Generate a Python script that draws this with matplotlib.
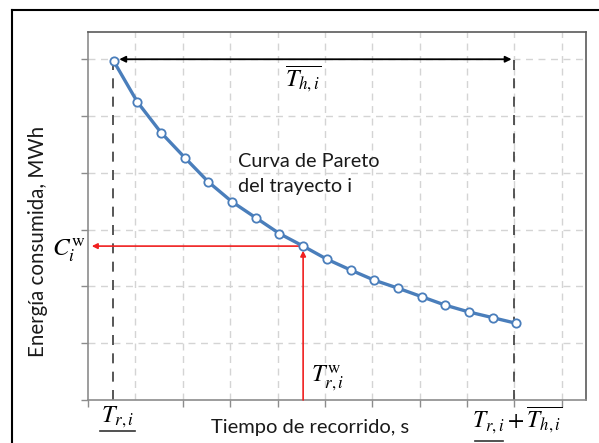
import matplotlib
matplotlib.use("Agg")
import matplotlib.pyplot as plt
from matplotlib.lines import Line2D

plt.rcParams['mathtext.fontset'] = 'stix'

# ---- data ----
time_s = [0.54, 1.04, 1.54, 2.04, 2.54, 3.04, 3.54, 4.04, 4.54, 5.04,
          5.54, 6.04, 6.54, 7.04, 7.54, 8.04, 8.54, 9.04]
energy_mwh = [5.97, 5.25, 4.71, 4.27, 3.84, 3.49, 3.21, 2.93, 2.71, 2.48,
              2.29, 2.11, 1.97, 1.82, 1.67, 1.55, 1.45, 1.35]
chosen_index = 8
t_min = 0.53
t_max = 9.0
arrow_level = 6.0
curve_label = "Curva de Pareto\ndel trayecto i"
x_label = "Tiempo de recorrido, s"
y_label = "Energía consumida, MWh"

W, H = 599, 443
fig = plt.figure(figsize=(W / 100, H / 100), dpi=100)
ax = fig.add_axes([88 / W, 1 - 400 / H, 498 / W, 368 / H])
ax.set_xlim(0, 10.51)
ax.set_ylim(0, 6.48)

# grid
for gx in range(1, 11):
    ax.axvline(gx, color='#d4d4d4', lw=1.0, ls=(0, (5, 4)), zorder=0)
for gy in range(1, 7):
    ax.axhline(gy, color='#d4d4d4', lw=1.0, ls=(0, (5, 4)), zorder=0)

ax.set_xticks([0, 2, 3, 4, 5, 6, 7, 8, 9, 10])
ax.set_yticks([0, 1, 2, 3, 4, 5, 6])
ax.tick_params(axis='both', direction='out', length=5, width=1, color='#8c8c8c',
               labelbottom=False, labelleft=False)
for side in ['left', 'bottom']:
    ax.spines[side].set_color('#8c8c8c')
for side in ['top', 'right']:
    ax.spines[side].set_color('#5a5a5a')
for s in ax.spines.values():
    s.set_linewidth(1.2)

# black dashed verticals
ax.plot([t_min, t_min], [0, energy_mwh[0]], color='#3a3a3a', lw=1.2,
        ls=(0, (6, 5)), zorder=2)
ax.plot([t_max, t_max], [0, arrow_level], color='#3a3a3a', lw=1.2,
        ls=(0, (6, 5)), zorder=2)

# double arrow
ax.annotate('', xy=(t_min + 0.13, arrow_level), xytext=(t_max - 0.06, arrow_level),
            arrowprops=dict(arrowstyle='<|-|>', color='black', lw=1.3,
                            mutation_scale=9, shrinkA=0, shrinkB=0), zorder=3)

# red arrows
cx, cy = time_s[chosen_index], energy_mwh[chosen_index]
ax.annotate('', xy=(0.08, cy), xytext=(cx - 0.05, cy),
            arrowprops=dict(arrowstyle='-|>', color='#f02020', lw=1.2,
                            mutation_scale=8, shrinkA=0, shrinkB=0), zorder=3)
ax.annotate('', xy=(cx, cy - 0.08), xytext=(cx, 0),
            arrowprops=dict(arrowstyle='-|>', color='#f02020', lw=1.2,
                            mutation_scale=8, shrinkA=0, shrinkB=0), zorder=3)

# pareto curve
ax.plot(time_s, energy_mwh, color='#4a7ebb', lw=2.4, marker='o', markersize=6,
        markerfacecolor='white', markeredgecolor='#4a7ebb', markeredgewidth=1.3,
        zorder=4, clip_on=False)

# texts
ax.text((238 - 88) / 47.4, (400 - 174) / 56.8, curve_label, fontsize=14.3,
        family='Lato', color='#1a1a1a', ha='left', va='center', linespacing=1.55)

fig.text(303 / W, 1 - 79 / H, r'$\overline{T_{h,i}}$', fontsize=17.5,
         ha='center', va='center')
fig.text(69 / W, 1 - 250 / H, r'$C_i^{\mathrm{w}}$', fontsize=18,
         ha='center', va='center')
fig.text(328 / W, 1 - 378 / H, r'$T_{r,i}^{\mathrm{w}}$', fontsize=17.5,
         ha='center', va='center')
fig.text(118 / W, 1 - 417 / H, r'$T_{r,i}$', fontsize=17.5,
         ha='center', va='center')
fig.add_artist(Line2D([100 / W, 135 / W], [1 - 431 / H, 1 - 431 / H],
                      transform=fig.transFigure, color='#333333', lw=1.2))
fig.text(517 / W, 1 - 420 / H, r'$T_{r,i}+\overline{T_{h,i}}$', fontsize=17,
         ha='center', va='center')
fig.add_artist(Line2D([475 / W, 503 / W], [1 - 441 / H, 1 - 441 / H],
                      transform=fig.transFigure, color='#333333', lw=1.2))

fig.text(310 / W, 1 - 428 / H, x_label, fontsize=14.5, family='Lato',
         color='#1a1a1a', ha='center', va='center')
fig.text(38 / W, 1 - 241 / H, y_label, fontsize=14.8, family='Lato',
         color='#1a1a1a', ha='center', va='center', rotation=90)

# outer frame
fig.add_artist(Line2D([12 / W, 12 / W], [0, 1 - 10 / H], transform=fig.transFigure,
                      color='black', lw=1.5))
fig.add_artist(Line2D([12 / W, 1], [1 - 10 / H, 1 - 10 / H], transform=fig.transFigure,
                      color='black', lw=1.5))

fig.savefig('out.png', dpi=100)
